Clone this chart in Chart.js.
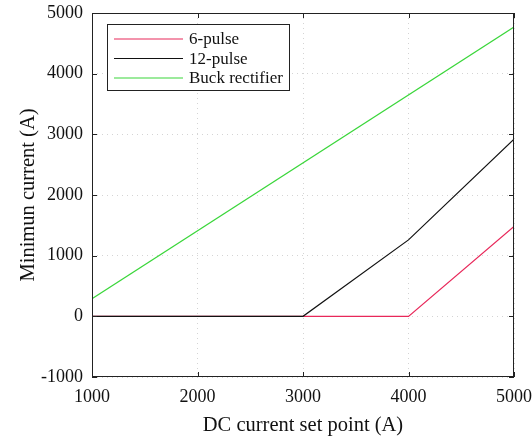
<!DOCTYPE html>
<html>
<head>
<meta charset="utf-8">
<script src="https://cdn.jsdelivr.net/npm/chart.js@4/dist/chart.umd.min.js"></script>
<style>
  html, body { margin: 0; padding: 0; background: #fff; }
  #box { width: 532px; height: 438px; }
</style>
</head>
<body>
<div id="box"><canvas id="grafico"></canvas></div>
<script>
// curvas de corrente minima
const pulse6X = [1000, 4000, 5000];
const pulse6Y = [0, 0, 1480];
const pulse12X = [1000, 3000, 4000, 5000];
const pulse12Y = [0, 0, 1260, 2920];
const buckX = [1000, 5000];
const buckY = [290, 4770];

const xTicks = [1000, 2000, 3000, 4000, 5000];
const yTicks = [-1000, 0, 1000, 2000, 3000, 4000, 5000];

function pontos(xs, ys) {
    return xs.map((x, i) => ({ x: x, y: ys[i] }));
}

const fonte = '"Liberation Serif", "Times New Roman", serif';

// moldura com ticks para dentro + legenda dentro do grafico
const molduraPlugin = {
    id: 'moldura',
    afterDatasetsDraw(chart) {
        const ctx = chart.ctx;
        const a = chart.chartArea;
        const sx = chart.scales.x, sy = chart.scales.y;
        ctx.save();
        ctx.strokeStyle = '#222';
        ctx.lineWidth = 1;
        ctx.strokeRect(a.left + 0.5, a.top + 0.5, a.right - a.left - 1, a.bottom - a.top - 1);
        ctx.beginPath();
        xTicks.forEach(v => {
            const px = Math.round(sx.getPixelForValue(v)) + 0.5;
            ctx.moveTo(px, a.bottom); ctx.lineTo(px, a.bottom - 5);
            ctx.moveTo(px, a.top); ctx.lineTo(px, a.top + 5);
        });
        yTicks.forEach(v => {
            const py = Math.round(sy.getPixelForValue(v)) + 0.5;
            ctx.moveTo(a.left, py); ctx.lineTo(a.left + 5, py);
            ctx.moveTo(a.right, py); ctx.lineTo(a.right - 5, py);
        });
        ctx.stroke();

        // legenda
        const lx = a.left + 15, ly = a.top + 11, lw = 182, lh = 66;
        ctx.fillStyle = '#fff';
        ctx.fillRect(lx, ly, lw, lh);
        ctx.strokeStyle = '#222';
        ctx.strokeRect(lx + 0.5, ly + 0.5, lw, lh);
        ctx.font = '17px ' + fonte;
        ctx.textBaseline = 'middle';
        chart.data.datasets.slice().reverse().forEach((ds, i) => {
            const y = ly + 15 + i * 19.5;
            ctx.strokeStyle = ds.borderColor;
            ctx.lineWidth = 1.2;
            ctx.beginPath();
            ctx.moveTo(lx + 7, y); ctx.lineTo(lx + 76, y);
            ctx.stroke();
            ctx.fillStyle = '#111';
            ctx.fillText(ds.label, lx + 82, y + 1);
        });
        ctx.restore();
    }
};

const ctx = document.getElementById('grafico').getContext('2d');
new Chart(ctx, {
    type: 'line',
    data: {
        datasets: [
            {
                label: 'Buck rectifier',
                data: pontos(buckX, buckY),
                borderColor: '#3ad63a',
                borderWidth: 1.2,
                pointRadius: 0
            },
            {
                label: '12-pulse',
                data: pontos(pulse12X, pulse12Y),
                borderColor: '#111111',
                borderWidth: 1.2,
                pointRadius: 0
            },
            {
                label: '6-pulse',
                data: pontos(pulse6X, pulse6Y),
                borderColor: '#e8285a',
                borderWidth: 1.2,
                pointRadius: 0,
                order: 1
            }
        ]
    },
    options: {
        responsive: true,
        maintainAspectRatio: false,
        animation: false,
        layout: { padding: { top: 13, right: 18, left: 12, bottom: 0 } },
        plugins: { legend: { display: false }, tooltip: { enabled: false } },
        scales: {
            x: {
                type: 'linear',
                min: 1000, max: 5000,
                afterBuildTicks: s => { s.ticks = xTicks.map(v => ({ value: v })); },
                afterFit: s => { s.height = 61; s.paddingLeft = 0; s.paddingRight = 0; },
                grid: { color: '#d4d4d4', drawTicks: false, lineWidth: 1 },
                border: { display: false, dash: [1, 4] },
                ticks: { padding: 9, color: '#111', font: { family: fonte, size: 18 }, maxRotation: 0, callback: v => String(v) },
                title: { display: true, text: 'DC current set point (A)', color: '#111', font: { family: fonte, size: 20.5 }, padding: { top: 2, bottom: 0 } }
            },
            y: {
                min: -1000, max: 5000,
                afterBuildTicks: s => { s.ticks = yTicks.map(v => ({ value: v })); },
                afterFit: s => { s.width = 80; s.paddingTop = 0; s.paddingBottom = 0; },
                grid: { color: '#d4d4d4', drawTicks: false, lineWidth: 1 },
                border: { display: false, dash: [1, 4] },
                ticks: { padding: 9, color: '#111', font: { family: fonte, size: 18 }, callback: v => String(v) },
                title: { display: true, text: 'Minimun current (A)', color: '#111', font: { family: fonte, size: 20.5 }, padding: { bottom: 4 } }
            }
        }
    },
    plugins: [molduraPlugin]
});
</script>
</body>
</html>
